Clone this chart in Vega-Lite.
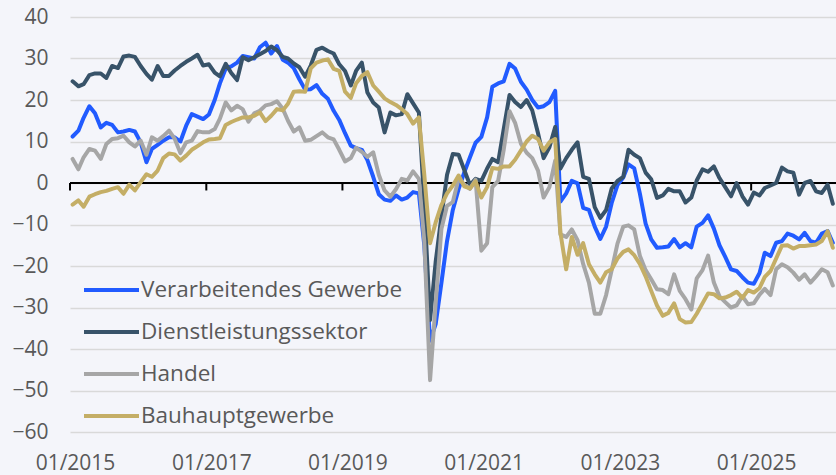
{
  "$schema": "https://vega.github.io/schema/vega-lite/v6.json",
  "width": 766,
  "height": 415,
  "autosize": {"type": "none"},
  "padding": {"left": 70, "top": 17, "right": 0, "bottom": 43},
  "background": "#F4F5FA",
  "config": {"view": {"stroke": null}, "font": "Open Sans"},
  "datasets": {
    "ticks": [
      {"d": "2015-01-01"}, {"d": "2017-01-01"}, {"d": "2019-01-01"},
      {"d": "2021-01-01"}, {"d": "2023-01-01"}, {"d": "2025-01-01"}
    ],
    "main": [
      {"d":"2015-01-15","V":11.2,"D":24.5,"H":5.8,"B":-5.2},
      {"d":"2015-02-15","V":12.6,"D":23.3,"H":3.3,"B":-4.2},
      {"d":"2015-03-15","V":15.7,"D":23.8,"H":6.2,"B":-5.7},
      {"d":"2015-04-15","V":18.5,"D":26,"H":8.2,"B":-3.3},
      {"d":"2015-05-15","V":16.8,"D":26.4,"H":7.8,"B":-2.7},
      {"d":"2015-06-15","V":13.4,"D":26.4,"H":5.8,"B":-2.2},
      {"d":"2015-07-15","V":14.5,"D":25.3,"H":9.4,"B":-1.9},
      {"d":"2015-08-15","V":14,"D":28.2,"H":10.6,"B":-1.4},
      {"d":"2015-09-15","V":12.2,"D":27.7,"H":10.8,"B":-1},
      {"d":"2015-10-15","V":12.4,"D":30.5,"H":11.4,"B":-2.6},
      {"d":"2015-11-15","V":12.8,"D":30.7,"H":9.8,"B":-0.4},
      {"d":"2015-12-15","V":12.4,"D":30.4,"H":8.8,"B":-1.8},
      {"d":"2016-01-15","V":9.8,"D":28.2,"H":10.2,"B":0.2},
      {"d":"2016-02-15","V":5,"D":26.3,"H":6.8,"B":2.1},
      {"d":"2016-03-15","V":8.2,"D":24.9,"H":11,"B":1.5},
      {"d":"2016-04-15","V":9.2,"D":28.2,"H":10.2,"B":3},
      {"d":"2016-05-15","V":10.2,"D":25.8,"H":11.3,"B":6},
      {"d":"2016-06-15","V":11,"D":25.8,"H":12.6,"B":7.1},
      {"d":"2016-07-15","V":11,"D":27.1,"H":10.7,"B":6.9},
      {"d":"2016-08-15","V":10,"D":28.2,"H":7.2,"B":5.4},
      {"d":"2016-09-15","V":13.8,"D":29.2,"H":9.8,"B":6.6},
      {"d":"2016-10-15","V":16.6,"D":30,"H":10.2,"B":8},
      {"d":"2016-11-15","V":16,"D":30.9,"H":12.5,"B":8.9},
      {"d":"2016-12-15","V":15.4,"D":28.3,"H":12.2,"B":9.8},
      {"d":"2017-01-15","V":16.5,"D":28.6,"H":12.2,"B":10.5},
      {"d":"2017-02-15","V":20,"D":26.6,"H":13,"B":10.6},
      {"d":"2017-03-15","V":24,"D":25.7,"H":15.5,"B":10.8},
      {"d":"2017-04-15","V":27.6,"D":28.7,"H":19.4,"B":14},
      {"d":"2017-05-15","V":28.1,"D":26.5,"H":17.5,"B":14.7},
      {"d":"2017-06-15","V":29,"D":24.8,"H":18.6,"B":15.3},
      {"d":"2017-07-15","V":30.6,"D":30.3,"H":17.8,"B":15.8},
      {"d":"2017-08-15","V":30.3,"D":29.6,"H":14.8,"B":15.8},
      {"d":"2017-09-15","V":30,"D":30.3,"H":16.8,"B":16.2},
      {"d":"2017-10-15","V":32.7,"D":31,"H":17.4,"B":17},
      {"d":"2017-11-15","V":33.8,"D":31.8,"H":18.7,"B":14.9},
      {"d":"2017-12-15","V":31.2,"D":32.9,"H":19,"B":16.2},
      {"d":"2018-01-15","V":33,"D":32,"H":19.7,"B":17.8},
      {"d":"2018-02-15","V":29.7,"D":30.4,"H":17.9,"B":17.5},
      {"d":"2018-03-15","V":29,"D":30,"H":15,"B":19.1},
      {"d":"2018-04-15","V":27.7,"D":28.8,"H":12.4,"B":22},
      {"d":"2018-05-15","V":25,"D":27.9,"H":13.4,"B":22.1},
      {"d":"2018-06-15","V":22.5,"D":25.6,"H":10.2,"B":22},
      {"d":"2018-07-15","V":22.6,"D":28.3,"H":10.4,"B":27.6},
      {"d":"2018-08-15","V":23.6,"D":32.1,"H":11.3,"B":29},
      {"d":"2018-09-15","V":21.5,"D":32.6,"H":12.2,"B":29.5},
      {"d":"2018-10-15","V":20.3,"D":31.8,"H":11,"B":29.8},
      {"d":"2018-11-15","V":17.4,"D":31.2,"H":10.5,"B":27.5},
      {"d":"2018-12-15","V":15.2,"D":28.6,"H":8,"B":27},
      {"d":"2019-01-15","V":12,"D":27,"H":5.2,"B":22},
      {"d":"2019-02-15","V":9,"D":23.5,"H":6,"B":20.5},
      {"d":"2019-03-15","V":8.4,"D":27,"H":8.5,"B":24},
      {"d":"2019-04-15","V":8,"D":29,"H":7.5,"B":25.8},
      {"d":"2019-05-15","V":5.5,"D":21.8,"H":6.3,"B":26.7},
      {"d":"2019-06-15","V":1.5,"D":19.4,"H":7.4,"B":23.5},
      {"d":"2019-07-15","V":-2.7,"D":18.2,"H":2,"B":22},
      {"d":"2019-08-15","V":-4,"D":12.2,"H":-1.8,"B":20.4},
      {"d":"2019-09-15","V":-4.3,"D":17,"H":-3.3,"B":19.5},
      {"d":"2019-10-15","V":-3,"D":16.3,"H":-1.5,"B":18.8},
      {"d":"2019-11-15","V":-4,"D":16.6,"H":1,"B":17.8},
      {"d":"2019-12-15","V":-3.5,"D":21.4,"H":0.6,"B":16.6},
      {"d":"2020-01-15","V":-2.2,"D":19.2,"H":2.8,"B":14.3},
      {"d":"2020-02-15","V":-2.5,"D":17,"H":1,"B":15.8},
      {"d":"2020-03-15","V":-15,"D":-5,"H":-14,"B":2},
      {"d":"2020-04-15","V":-38,"D":-33,"H":-47.5,"B":-14.5},
      {"d":"2020-05-15","V":-34,"D":-19,"H":-29,"B":-9.5},
      {"d":"2020-06-15","V":-24,"D":-8,"H":-11,"B":-5.3},
      {"d":"2020-07-15","V":-14,"D":2,"H":-5.5,"B":-2.5},
      {"d":"2020-08-15","V":-6.5,"D":7,"H":-4.6,"B":-0.6},
      {"d":"2020-09-15","V":-1.5,"D":6.8,"H":1,"B":1.8},
      {"d":"2020-10-15","V":2.5,"D":3.2,"H":-0.3,"B":-0.8},
      {"d":"2020-11-15","V":6.2,"D":-0.5,"H":-1.4,"B":-1.3},
      {"d":"2020-12-15","V":9.7,"D":1,"H":0.8,"B":0.4},
      {"d":"2021-01-15","V":11.1,"D":0.5,"H":-16.3,"B":-3.5},
      {"d":"2021-02-15","V":15.8,"D":3.5,"H":-14.5,"B":-1},
      {"d":"2021-03-15","V":23.2,"D":5.8,"H":-1,"B":3.6},
      {"d":"2021-04-15","V":24,"D":5,"H":0.5,"B":3.4},
      {"d":"2021-05-15","V":24.5,"D":13,"H":8,"B":4},
      {"d":"2021-06-15","V":28.7,"D":21.2,"H":17.3,"B":4},
      {"d":"2021-07-15","V":27.6,"D":19.5,"H":14.5,"B":5.6},
      {"d":"2021-08-15","V":24.4,"D":18.3,"H":9.5,"B":7.8},
      {"d":"2021-09-15","V":22.5,"D":20,"H":7.3,"B":10},
      {"d":"2021-10-15","V":20,"D":17.5,"H":6,"B":11.4},
      {"d":"2021-11-15","V":18.2,"D":12,"H":3,"B":10.6},
      {"d":"2021-12-15","V":18.5,"D":6,"H":-3.5,"B":7.8},
      {"d":"2022-01-15","V":19.5,"D":8.6,"H":-1,"B":9.8},
      {"d":"2022-02-15","V":22.2,"D":13.5,"H":5.4,"B":10.6},
      {"d":"2022-03-15","V":-4.5,"D":3.5,"H":-12.4,"B":-12},
      {"d":"2022-04-15","V":-2.5,"D":6,"H":-13,"B":-20.8},
      {"d":"2022-05-15","V":0.5,"D":8,"H":-11.2,"B":-13},
      {"d":"2022-06-15","V":-0.1,"D":9.8,"H":-13.8,"B":-17.3},
      {"d":"2022-07-15","V":-6,"D":1.5,"H":-19.5,"B":-14.5},
      {"d":"2022-08-15","V":-6.5,"D":1,"H":-24,"B":-19.6},
      {"d":"2022-09-15","V":-10.5,"D":-5.8,"H":-31.5,"B":-22},
      {"d":"2022-10-15","V":-13.5,"D":-8.4,"H":-31.5,"B":-24},
      {"d":"2022-11-15","V":-10.5,"D":-6.5,"H":-27,"B":-21.5},
      {"d":"2022-12-15","V":-4.8,"D":-1.3,"H":-21,"B":-20.8},
      {"d":"2023-01-15","V":-0.5,"D":0.5,"H":-14.6,"B":-18.2},
      {"d":"2023-02-15","V":1.3,"D":1.5,"H":-10.5,"B":-16.6},
      {"d":"2023-03-15","V":4.5,"D":8,"H":-10.2,"B":-16},
      {"d":"2023-04-15","V":3.5,"D":6.8,"H":-11.2,"B":-17.4},
      {"d":"2023-05-15","V":-2.5,"D":6,"H":-17.5,"B":-19.5},
      {"d":"2023-06-15","V":-9.8,"D":2.5,"H":-21,"B":-22.5},
      {"d":"2023-07-15","V":-13.6,"D":0.9,"H":-23.2,"B":-26},
      {"d":"2023-08-15","V":-15.6,"D":-3.6,"H":-25.6,"B":-29.5},
      {"d":"2023-09-15","V":-15.5,"D":-3,"H":-25.8,"B":-32},
      {"d":"2023-10-15","V":-15.3,"D":-1.4,"H":-26.8,"B":-31.3},
      {"d":"2023-11-15","V":-13.5,"D":-2,"H":-22,"B":-29},
      {"d":"2023-12-15","V":-15.5,"D":-2,"H":-26,"B":-32.8},
      {"d":"2024-01-15","V":-14.5,"D":-4.7,"H":-28,"B":-33.6},
      {"d":"2024-02-15","V":-15.5,"D":-3.5,"H":-30.5,"B":-33.5},
      {"d":"2024-03-15","V":-10.5,"D":0.6,"H":-23,"B":-31.5},
      {"d":"2024-04-15","V":-9.6,"D":3.3,"H":-21,"B":-29},
      {"d":"2024-05-15","V":-7.8,"D":2.7,"H":-17.5,"B":-26.6},
      {"d":"2024-06-15","V":-11,"D":4,"H":-24,"B":-26.8},
      {"d":"2024-07-15","V":-15,"D":1.2,"H":-27.3,"B":-27.8},
      {"d":"2024-08-15","V":-17.8,"D":-1,"H":-28.7,"B":-27.6},
      {"d":"2024-09-15","V":-20.8,"D":-3.2,"H":-30,"B":-27},
      {"d":"2024-10-15","V":-21.2,"D":0,"H":-29.5,"B":-26.2},
      {"d":"2024-11-15","V":-22.7,"D":-3.2,"H":-27.3,"B":-27.7},
      {"d":"2024-12-15","V":-24,"D":-5.2,"H":-29.2,"B":-25.8},
      {"d":"2025-01-15","V":-24.3,"D":-2.3,"H":-29,"B":-26.4},
      {"d":"2025-02-15","V":-21.7,"D":-3,"H":-26.9,"B":-25.3},
      {"d":"2025-03-15","V":-16.8,"D":-1.2,"H":-25.5,"B":-22.6},
      {"d":"2025-04-15","V":-17.6,"D":-0.6,"H":-27,"B":-21.2},
      {"d":"2025-05-15","V":-14.4,"D":0,"H":-20.8,"B":-18.2},
      {"d":"2025-06-15","V":-14,"D":3.7,"H":-19.6,"B":-15.1},
      {"d":"2025-07-15","V":-12.2,"D":2.8,"H":-20.3,"B":-15},
      {"d":"2025-08-15","V":-12.7,"D":2.5,"H":-21.6,"B":-15.8},
      {"d":"2025-09-15","V":-13.6,"D":-2.8,"H":-23.3,"B":-15.2},
      {"d":"2025-10-15","V":-12,"D":0,"H":-22,"B":-15.2},
      {"d":"2025-11-15","V":-14,"D":0.5,"H":-24,"B":-15},
      {"d":"2025-12-15","V":-14.4,"D":-2,"H":-22.5,"B":-14.8},
      {"d":"2026-01-15","V":-12.2,"D":-2.4,"H":-20.8,"B":-14},
      {"d":"2026-02-15","V":-11.6,"D":-0.4,"H":-21.5,"B":-11.6},
      {"d":"2026-03-15","V":-14.4,"D":-5,"H":-24.7,"B":-15.6}
    ]
  },
  "layer": [
    {
      "data": {"values": [{}]},
      "mark": {"type": "rule", "color": "#000000", "strokeWidth": 2},
      "encoding": {
        "y": {
          "datum": 0, "type": "quantitative", "title": null,
          "scale": {"domain": [-60, 40], "nice": false, "zero": false},
          "axis": {
            "values": [-60, -50, -40, -30, -20, -10, 0, 10, 20, 30, 40],
            "grid": true, "gridColor": "#D9D9D9", "gridWidth": 1.5,
            "domain": false, "ticks": false, "tickSize": 0,
            "labelFontSize": 21, "labelColor": "#595959", "labelPadding": 22, "labelFont": "Open Sans"
          }
        }
      }
    },
    {
      "data": {"name": "ticks"},
      "mark": {"type": "rule", "color": "#000000", "strokeWidth": 2},
      "encoding": {
        "x": {
          "field": "d", "type": "temporal", "title": null,
          "scale": {"type": "utc", "domain": [{"year": 2015, "month": 1, "date": 1, "utc": true}, {"year": 2026, "month": 4, "date": 1, "utc": true}]},
          "axis": {
            "values": [
              {"year": 2015, "month": 1, "date": 1, "utc": true},
              {"year": 2017, "month": 1, "date": 1, "utc": true},
              {"year": 2019, "month": 1, "date": 1, "utc": true},
              {"year": 2021, "month": 1, "date": 1, "utc": true},
              {"year": 2023, "month": 1, "date": 1, "utc": true},
              {"year": 2025, "month": 1, "date": 1, "utc": true}
            ],
            "labelExpr": "utcFormat(datum.value, '%m/%Y')",
            "grid": false, "domain": false, "ticks": false, "tickSize": 0,
            "labelFontSize": 21, "labelColor": "#595959", "labelPadding": 20,
            "labelOffset": 5, "labelFlush": false, "labelOverlap": false, "labelFont": "Open Sans"
          }
        },
        "y": {
          "datum": 0, "type": "quantitative", "title": null,
          "axis": {
            "values": [-60, -50, -40, -30, -20, -10, 0, 10, 20, 30, 40],
            "grid": true, "gridColor": "#D9D9D9", "gridWidth": 1.5,
            "domain": false, "ticks": false, "tickSize": 0,
            "labelFontSize": 21, "labelColor": "#595959", "labelPadding": 22, "labelFont": "Open Sans"
          }
        },
        "y2": {"datum": -1.8}
      }
    },
    {
      "data": {"name": "main"},
      "transform": [{"fold": ["V", "D", "H", "B"], "as": ["s", "v"]}],
      "mark": {"type": "line", "strokeWidth": 4, "strokeJoin": "round", "strokeCap": "round"},
      "encoding": {
        "x": {
          "field": "d", "type": "temporal", "title": null,
          "scale": {"type": "utc", "domain": [{"year": 2015, "month": 1, "date": 1, "utc": true}, {"year": 2026, "month": 4, "date": 1, "utc": true}]},
          "axis": {
            "values": [
              {"year": 2015, "month": 1, "date": 1, "utc": true},
              {"year": 2017, "month": 1, "date": 1, "utc": true},
              {"year": 2019, "month": 1, "date": 1, "utc": true},
              {"year": 2021, "month": 1, "date": 1, "utc": true},
              {"year": 2023, "month": 1, "date": 1, "utc": true},
              {"year": 2025, "month": 1, "date": 1, "utc": true}
            ],
            "labelExpr": "utcFormat(datum.value, '%m/%Y')",
            "grid": false, "domain": false, "ticks": false, "tickSize": 0,
            "labelFontSize": 21, "labelColor": "#595959", "labelPadding": 20,
            "labelOffset": 5, "labelFlush": false, "labelOverlap": false, "labelFont": "Open Sans"
          }
        },
        "y": {
          "field": "v", "type": "quantitative", "title": null,
          "scale": {"domain": [-60, 40], "nice": false, "zero": false},
          "axis": {
            "values": [-60, -50, -40, -30, -20, -10, 0, 10, 20, 30, 40],
            "grid": true, "gridColor": "#D9D9D9", "gridWidth": 1.5,
            "domain": false, "ticks": false, "tickSize": 0,
            "labelFontSize": 21, "labelColor": "#595959", "labelPadding": 22, "labelFont": "Open Sans"
          }
        },
        "color": {
          "field": "s", "type": "nominal",
          "scale": {"domain": ["V", "D", "H", "B"], "range": ["#215BFF", "#385369", "#A6A6A6", "#C4AE66"]},
          "legend": {
            "orient": "none", "legendX": 12, "legendY": 243.5, "title": null,
            "symbolType": "stroke", "symbolSize": 3025, "symbolStrokeWidth": 4,
            "labelFontSize": 22.5, "labelColor": "#595959", "labelFont": "Open Sans", "labelLimit": 400,
            "rowPadding": 1, "labelOffset": 0, "padding": 0,
            "labelExpr": "datum.label == 'V' ? 'Verarbeitendes Gewerbe' : datum.label == 'D' ? 'Dienstleistungssektor' : datum.label == 'H' ? 'Handel' : 'Bauhauptgewerbe'"
          }
        }
      }
    }
  ]
}
